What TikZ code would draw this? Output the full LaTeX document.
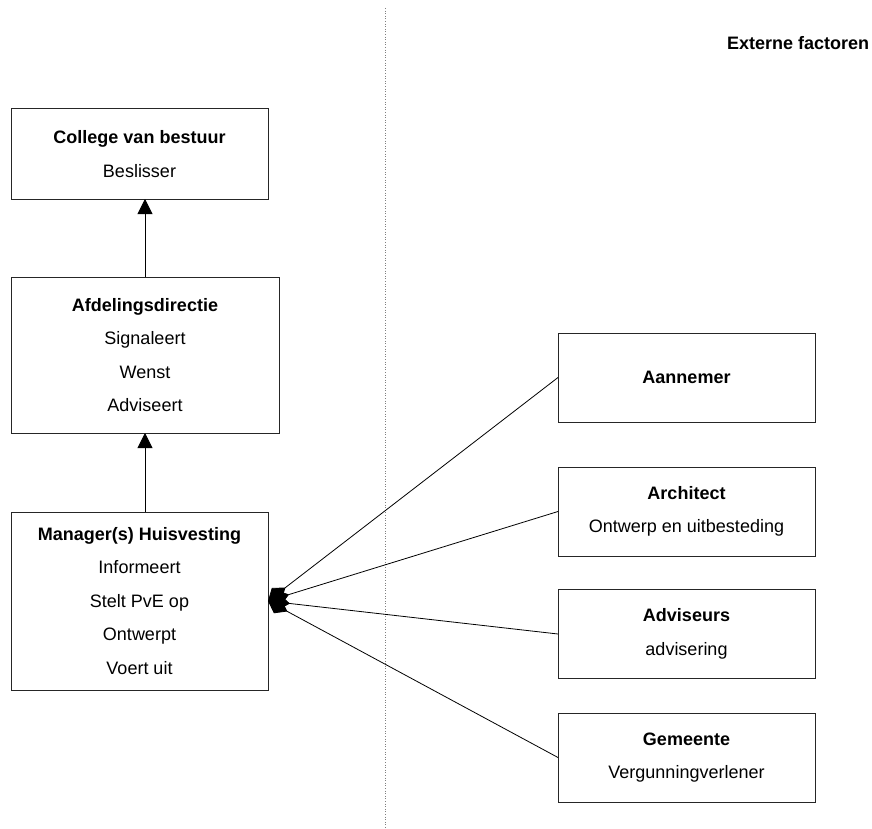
\documentclass[tikz,border=0pt]{standalone}
\usepackage{fontspec}
\setmainfont{Liberation Sans}
\usetikzlibrary{arrows.meta}

\begin{document}
\begin{tikzpicture}[x=1pt,y=-1pt,
  every node/.style={inner sep=0pt,outer sep=0pt},
  box/.style={draw=black!85,line width=1pt,align=center,
    font=\fontsize{18}{33.5}\selectfont},
  leftbox/.style={box,minimum width=257pt},
  rightbox/.style={box,minimum width=257pt,minimum height=89pt},
  upflow/.style={line width=0.9pt,-{Triangle[length=15pt,width=15pt]}},
  link/.style={line width=0.8pt,-{Diamond[length=22pt,width=16pt]}},
  sep/.style={gray,dotted,line width=0.6pt}]

  % page area
  \useasboundingbox (0,0) rectangle (872,829);

  % divider between the organisation and the external parties
  \draw[sep] (385,8) -- (385,829);

  \node[anchor=west,font=\fontsize{18}{20}\selectfont\bfseries] (ext) at (727,43) {Externe factoren};

  % organisation (left column)
  \node[leftbox,minimum height=90pt] (cvb) at (139.5,154)
    {\textbf{College van bestuur}\\Beslisser};
  \node[box,minimum width=268pt,minimum height=156pt] (afd) at (145,355)
    {\textbf{Afdelingsdirectie}\\Signaleert\\Wenst\\Adviseert};
  \node[leftbox,minimum height=178pt] (mgr) at (139.5,601)
    {\textbf{Manager(s) Huisvesting}\\Informeert\\Stelt PvE op\\Ontwerpt\\Voert uit};

  % external parties (right column)
  \node[rightbox] (aan) at (686.5,377.5) {\textbf{Aannemer}};
  \node[rightbox] (arc) at (686.5,511.5) {\textbf{Architect}\\Ontwerp en uitbesteding};
  \node[rightbox] (adv) at (686.5,634) {\textbf{Adviseurs}\\advisering};
  \node[rightbox] (gem) at (686.5,757.5) {\textbf{Gemeente}\\Vergunningverlener};

  % reporting lines, on the axis of the Afdelingsdirectie box
  \draw[upflow] (afd.north) -- (afd.north |- cvb.south);
  \draw[upflow] (afd.south |- mgr.north) -- (afd.south);

  % links from the external parties to the manager
  \coordinate (hub) at (mgr.east);
  \foreach \p in {aan,arc,adv,gem}
    \draw[link] (\p.west) -- (hub);
\end{tikzpicture}
\end{document}
